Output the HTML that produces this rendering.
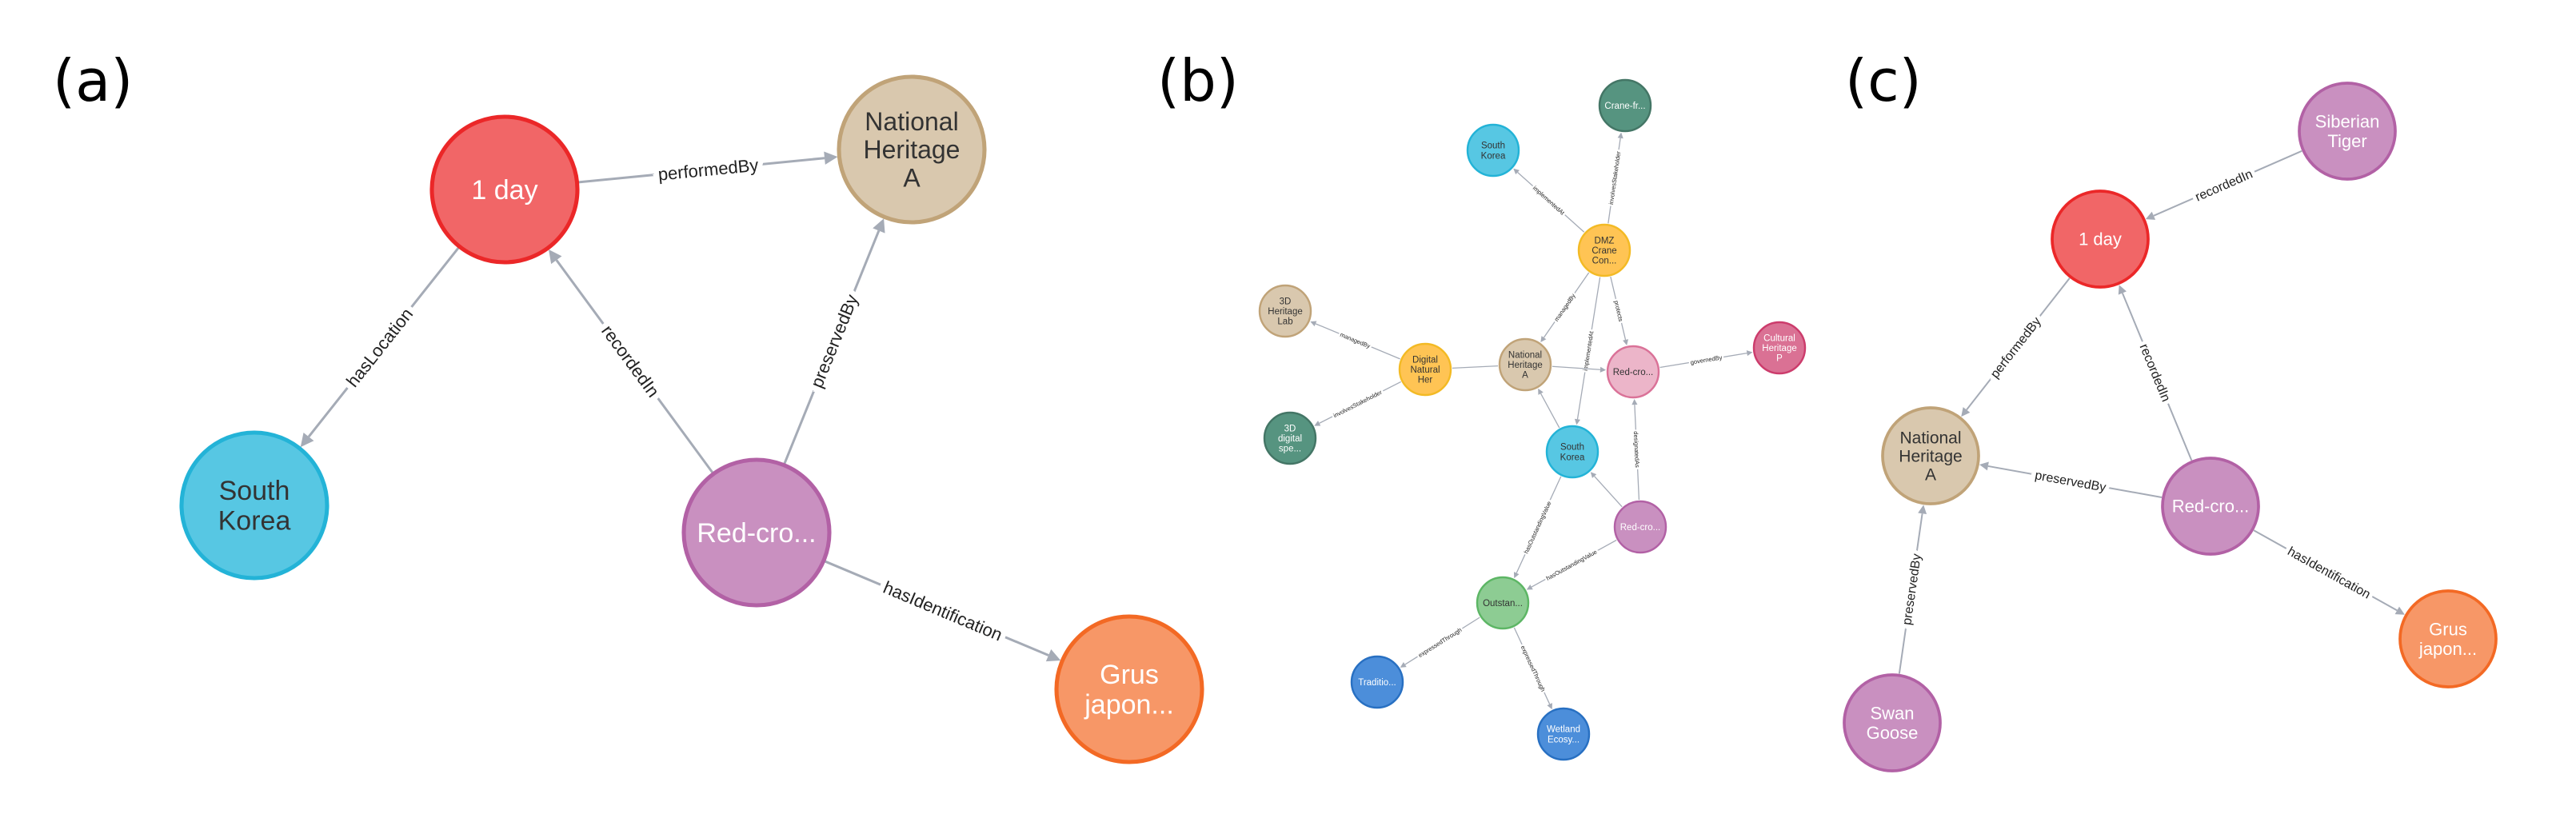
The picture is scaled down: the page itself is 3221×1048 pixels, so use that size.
<!DOCTYPE html>
<html><head><meta charset="utf-8">
<style>
html,body{margin:0;padding:0;background:#fff;}
svg{display:block;font-family:"Liberation Sans",Arial,sans-serif;}
</style></head>
<body>
<svg id="s" width="3221" height="1048" viewBox="0 0 3221 1048" xmlns="http://www.w3.org/2000/svg">
<defs></defs>
<text x="66" y="126" font-size="72" font-family="DejaVu Sans, sans-serif" fill="#000">(a)</text>
<text x="1447" y="126" font-size="72" font-family="DejaVu Sans, sans-serif" fill="#000">(b)</text>
<text x="2307" y="126" font-size="72" font-family="DejaVu Sans, sans-serif" fill="#000">(c)</text>
<g id="edges"></g><g id="nodes"></g>
</svg>
<script>
var NS="http://www.w3.org/2000/svg";
var C={
red:["#F16667","#EB2728","#fff"],tan:["#D9C8AE","#C0A378","#333"],blue:["#57C7E3","#23B3D7","#333"],
pur:["#C990C0","#B261A5","#fff"],ora:["#F79767","#F36924","#fff"],yel:["#FFC454","#F3BA25","#333"],
grn:["#8DCC93","#5DB665","#333"],dg:["#569480","#447666","#fff"],pk:["#ECB5C9","#DA7298","#333"],
pk2:["#DA7194","#CC3C6C","#fff"],db:["#4C8EDA","#2870C2","#fff"]};
function el(t,a,p){var e=document.createElementNS(NS,t);for(var k in a)e.setAttribute(k,a[k]);(p||document.getElementById("s")).appendChild(e);return e;}
var E=document.getElementById("edges"),N=document.getElementById("nodes");
function node(x,y,r,c,lines,fs){
 var col=C[c];el("circle",{cx:x,cy:y,r:r,fill:col[0],stroke:col[1],"stroke-width":r*0.045+1},N);
 var lh=fs*1.1,y0=y-(lines.length-1)*lh/2+fs*0.35;
 lines.forEach(function(l,i){var t=el("text",{x:x,y:y0+i*lh,"font-size":fs,"text-anchor":"middle",fill:col[2]},N);t.textContent=l;});
}
function edge(a,b,r1,r2,label,fs,w,arrow){
 var dx=b[0]-a[0],dy=b[1]-a[1],L=Math.hypot(dx,dy),ux=dx/L,uy=dy/L;
 var sx=a[0]+ux*(r1+2),sy=a[1]+uy*(r1+2),ex=b[0]-ux*(r2+2),ey=b[1]-uy*(r2+2);
 var ah=w*5.5;
 var lx=arrow===false?ex:ex-ux*ah, ly=arrow===false?ey:ey-uy*ah;
 el("line",{x1:sx,y1:sy,x2:lx,y2:ly,stroke:"#A5ABB6","stroke-width":w},E);
 if(arrow!==false){var px=-uy,py=ux;
  el("polygon",{points:ex+","+ey+" "+(ex-ux*ah+px*ah*0.5)+","+(ey-uy*ah+py*ah*0.5)+" "+(ex-ux*ah-px*ah*0.5)+","+(ey-uy*ah-py*ah*0.5),fill:"#A5ABB6"},E);}
 if(label){var mx=(sx+ex)/2,my=(sy+ey)/2,ang=Math.atan2(dy,dx)*180/Math.PI;
  if(ang>90)ang-=180;if(ang<-90)ang+=180;
  var t=el("text",{x:mx,y:my+fs*0.35,"font-size":fs,"text-anchor":"middle",fill:"#222",stroke:"#fff","stroke-width":fs*0.6,"paint-order":"stroke",transform:"rotate("+ang+" "+mx+" "+my+")"},E);t.textContent=label;}
}
// Panel a
var R=91,A={d:[631,237],nh:[1140,187],sk:[318,632],rc:[946,666],gr:[1412,862]};
edge(A.d,A.nh,R,R,"performedBy",22,3);
edge(A.d,A.sk,R,R,"hasLocation",22,3);
edge(A.rc,A.d,R,R,"recordedIn",22,3);
edge(A.rc,A.nh,R,R,"preservedBy",22,3);
edge(A.rc,A.gr,R,R,"hasIdentification",22,3);
node(A.d[0],A.d[1],R,"red",["1 day"],34);
node(A.nh[0],A.nh[1],R,"tan",["National","Heritage","A"],32);
node(A.sk[0],A.sk[1],R,"blue",["South","Korea"],34);
node(A.rc[0],A.rc[1],R,"pur",["Red-cro..."],34);
node(A.gr[0],A.gr[1],R,"ora",["Grus","japon..."],34);
// Panel b
var r=32,B={dmz:[2006,313],sk1:[1867,188],cf:[2032,132],lab:[1607,389],dig:[1782,462],nh:[1907,456],rp:[2042,465],ch:[2225,435],sp:[1613,548],sk2:[1966,565],rc:[2051,659],out:[1879,754],tr:[1722,853],we:[1955,918]};
var f=7.5,w=1.3;
edge(B.dmz,B.sk1,r,r,"implementedAt",f,w);
edge(B.dmz,B.cf,r,r,"involvesStakeholder",f,w);
edge(B.dmz,B.nh,r,r,"managedBy",f,w);
edge(B.dmz,B.sk2,r,r,"implementedAt",f,w);
edge(B.dmz,B.rp,r,r,"protects",f,w);
edge(B.dig,B.lab,r,r,"managedBy",f,w);
edge(B.dig,B.sp,r,r,"involvesStakeholder",f,w);
edge(B.dig,B.nh,r,r,null,f,w,false);
edge(B.nh,B.rp,r,r,null,f,w);
edge(B.rp,B.ch,r,r,"governedBy",f,w);
edge(B.sk2,B.nh,r,r,null,f,w);
edge(B.rc,B.sk2,r,r,null,f,w);
edge(B.rc,B.rp,r,r,"designatedAs",f,w);
edge(B.sk2,B.out,r,r,"hasOutstandingValue",f,w);
edge(B.rc,B.out,r,r,"hasOutstandingValue",f,w);
edge(B.out,B.tr,r,r,"expressedThrough",f,w);
edge(B.out,B.we,r,r,"expressedThrough",f,w);
var fn=11.5;
node(B.dmz[0],B.dmz[1],r,"yel",["DMZ","Crane","Con..."],fn);
node(B.sk1[0],B.sk1[1],r,"blue",["South","Korea"],fn);
node(B.cf[0],B.cf[1],r,"dg",["Crane-fr..."],fn);
node(B.lab[0],B.lab[1],r,"tan",["3D","Heritage","Lab"],fn);
node(B.dig[0],B.dig[1],r,"yel",["Digital","Natural","Her"],fn);
node(B.nh[0],B.nh[1],r,"tan",["National","Heritage","A"],fn);
node(B.rp[0],B.rp[1],r,"pk",["Red-cro..."],fn);
node(B.ch[0],B.ch[1],r,"pk2",["Cultural","Heritage","P"],fn);
node(B.sp[0],B.sp[1],r,"dg",["3D","digital","spe..."],fn);
node(B.sk2[0],B.sk2[1],r,"blue",["South","Korea"],fn);
node(B.rc[0],B.rc[1],r,"pur",["Red-cro..."],fn);
node(B.out[0],B.out[1],r,"grn",["Outstan..."],fn);
node(B.tr[0],B.tr[1],r,"db",["Traditio..."],fn);
node(B.we[0],B.we[1],r,"db",["Wetland","Ecosy..."],fn);
// Panel c
var Rc=60,Cc={st:[2935,164],d:[2626,299],nh:[2414,570],rc:[2764,633],gr:[3061,799],sg:[2366,904]};
edge(Cc.st,Cc.d,Rc,Rc,"recordedIn",16,2);
edge(Cc.d,Cc.nh,Rc,Rc,"performedBy",16,2);
edge(Cc.rc,Cc.d,Rc,Rc,"recordedIn",16,2);
edge(Cc.rc,Cc.nh,Rc,Rc,"preservedBy",16,2);
edge(Cc.sg,Cc.nh,Rc,Rc,"preservedBy",16,2);
edge(Cc.rc,Cc.gr,Rc,Rc,"hasIdentification",16,2);
node(Cc.st[0],Cc.st[1],Rc,"pur",["Siberian","Tiger"],22);
node(Cc.d[0],Cc.d[1],Rc,"red",["1 day"],22);
node(Cc.nh[0],Cc.nh[1],Rc,"tan",["National","Heritage","A"],21);
node(Cc.rc[0],Cc.rc[1],Rc,"pur",["Red-cro..."],22);
node(Cc.gr[0],Cc.gr[1],Rc,"ora",["Grus","japon..."],22);
node(Cc.sg[0],Cc.sg[1],Rc,"pur",["Swan","Goose"],22);
</script>
</body></html>
